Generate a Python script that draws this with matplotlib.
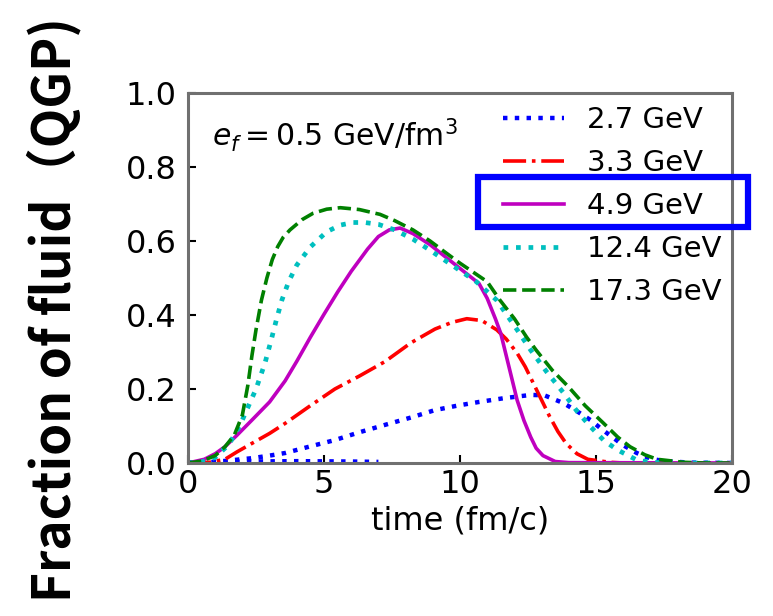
import matplotlib
matplotlib.use("Agg")
import matplotlib.pyplot as plt
from matplotlib.patches import Rectangle

# ---- data ----
labels = ["2.7 GeV", "3.3 GeV", "4.9 GeV", "12.4 GeV", "17.3 GeV"]

t_27 = [0, 1.0, 2.35, 3.0, 3.57, 4.5, 5.4, 6.3, 7.24, 8.2, 9.08, 9.9, 10.7, 11.6, 12.6, 13.1,
        13.8, 14.3, 14.8, 15.2, 15.6, 16.0, 16.5, 17.0, 17.5, 18.5, 20]
f_27 = [0, 0.003, 0.013, 0.02, 0.027, 0.045, 0.062, 0.083, 0.103, 0.123, 0.143, 0.155, 0.165,
        0.175, 0.184, 0.183, 0.162, 0.14, 0.116, 0.092, 0.07, 0.048, 0.027, 0.012, 0.005, 0.001, 0]

t_27_low = [0, 2, 4, 6, 7]
f_27_low = [0.002, 0.004, 0.005, 0.004, 0.003]

t_33 = [0, 0.8, 1.36, 1.8, 2.35, 3.0, 3.57, 4.5, 5.4, 6.3, 7.24, 8.2, 9.08, 9.7, 10.25, 10.8,
        11.35, 11.7, 12.1, 12.4, 12.7, 13.0, 13.3, 13.6, 13.9, 14.3, 14.7, 15.5, 16, 20]
f_33 = [0, 0.002, 0.01, 0.03, 0.053, 0.08, 0.107, 0.155, 0.2, 0.235, 0.274, 0.325, 0.362, 0.38,
        0.39, 0.385, 0.36, 0.335, 0.297, 0.26, 0.215, 0.17, 0.125, 0.085, 0.053, 0.025, 0.01,
        0.002, 0, 0]

t_49 = [0, 0.6, 1.0, 1.36, 1.8, 2.35, 3.0, 3.57, 4.0, 4.5, 5.0, 5.5, 6.0, 6.6, 7.0, 7.4, 7.8,
        8.27, 8.9, 9.5, 10.1, 10.7, 11.0, 11.3, 11.5, 11.8, 12.1, 12.35, 12.6, 12.8, 13.05, 13.5,
        14, 20]
f_49 = [0, 0.01, 0.025, 0.044, 0.075, 0.116, 0.165, 0.222, 0.275, 0.34, 0.402, 0.462, 0.518,
        0.578, 0.612, 0.63, 0.635, 0.62, 0.59, 0.555, 0.52, 0.485, 0.445, 0.39, 0.35, 0.26, 0.17,
        0.115, 0.07, 0.04, 0.02, 0.004, 0.001, 0]

t_124 = [0, 0.5, 1.0, 1.5, 1.9, 2.2, 2.5, 2.83, 3.05, 3.26, 3.45, 3.7, 4.0, 4.5, 5.1, 5.6, 6.07,
         6.5, 7.0, 7.6, 8.27, 8.9, 9.5, 10.0, 10.6, 11.35, 12.1, 12.6, 13.2, 13.8, 14.3, 14.8,
         15.3, 15.8, 16.5, 17.0, 18, 20]
f_124 = [0, 0.003, 0.015, 0.05, 0.1, 0.15, 0.2, 0.27, 0.33, 0.39, 0.44, 0.49, 0.535, 0.584,
         0.625, 0.643, 0.65, 0.65, 0.645, 0.63, 0.605, 0.575, 0.545, 0.52, 0.49, 0.44, 0.36, 0.305,
         0.245, 0.19, 0.14, 0.098, 0.06, 0.035, 0.008, 0.002, 0, 0]

t_173 = [0, 0.5, 1.0, 1.36, 1.7, 2.0, 2.2, 2.35, 2.5, 2.7, 2.9, 3.1, 3.3, 3.5, 3.75, 4.2, 4.6,
         5.1, 5.6, 6.3, 7.06, 7.6, 8.27, 8.9, 9.5, 10.0, 10.5, 11.0, 11.47, 12.0, 12.45, 12.8,
         13.4, 14.0, 14.6, 15.27, 15.8, 16.25, 16.8, 17.25, 18.2, 19, 20]
f_173 = [0, 0.005, 0.02, 0.044, 0.075, 0.13, 0.21, 0.29, 0.36, 0.44, 0.5, 0.55, 0.585, 0.61,
         0.63, 0.658, 0.675, 0.686, 0.69, 0.685, 0.672, 0.655, 0.63, 0.6, 0.567, 0.54, 0.515, 0.49,
         0.44, 0.39, 0.34, 0.305, 0.25, 0.205, 0.155, 0.108, 0.07, 0.044, 0.022, 0.01, 0.002, 0, 0]

x_ticks = [0, 5, 10, 15, 20]
y_ticks = [0.0, 0.2, 0.4, 0.6, 0.8, 1.0]

# ---- figure ----
W, H = 773, 616
fig = plt.figure(figsize=(W / 100, H / 100), dpi=100)
ax = fig.add_axes([188 / W, 1 - 463 / H, (732 - 188) / W, (463 - 93) / H])

lw = 2.6
ax.plot(t_27, f_27, color="#0000ff", ls=":", lw=lw + 0.6, label=labels[0])
ax.plot(t_27_low, f_27_low, color="#0000ff", ls=":", lw=lw + 0.6)
ax.plot(t_33, f_33, color="#ff0000", ls="-.", lw=lw, label=labels[1])
ax.plot(t_49, f_49, color="#bf00bf", ls="-", lw=lw, label=labels[2])
ax.plot(t_124, f_124, color="#00bfbf", ls=":", lw=lw + 0.8, label=labels[3])
ax.plot(t_173, f_173, color="#008000", ls="--", lw=lw, label=labels[4])

ax.set_xlim(0, 20)
ax.set_ylim(0, 1.0)
ax.set_xticks(x_ticks)
ax.set_yticks(y_ticks)
ax.set_xticklabels([str(v) for v in x_ticks])
ax.set_yticklabels([f"{v:.1f}" for v in y_ticks])
ax.tick_params(direction="in", length=6, width=1.5, labelsize=23, colors="black")
ax.tick_params(axis="x", pad=4)
ax.tick_params(axis="y", pad=8)
for s in ax.spines.values():
    s.set_color("#707070")
    s.set_linewidth(2.2)

ax.set_xlabel("time (fm/c)", fontsize=23, labelpad=4)

ax.text(0.045, 0.885, r"$e_f = 0.5$ GeV/fm$^3$", transform=ax.transAxes, fontsize=21.5,
        ha="left", va="center")

leg = ax.legend(loc="upper right", frameon=False, fontsize=21, handlelength=2.1,
                labelspacing=0.52, handletextpad=0.8, borderaxespad=0.1,
                bbox_to_anchor=(1.008, 1.005))

# highlight box around 4.9 GeV legend entry
rect = Rectangle((478 / W, 1 - 227 / H), (748 - 478) / W, (227 - 177) / H,
                 transform=fig.transFigure, fill=False, edgecolor="#0000ff", lw=4.5,
                 clip_on=False)
fig.patches.append(rect)

fig.text(54 / W, 1 - 310 / H, "Fraction of fluid（QGP)", rotation=90,
         ha="center", va="center", fontsize=37, fontweight="bold",
         family=["Noto Sans CJK JP", "DejaVu Sans"])

fig.savefig("out.png", dpi=100)
